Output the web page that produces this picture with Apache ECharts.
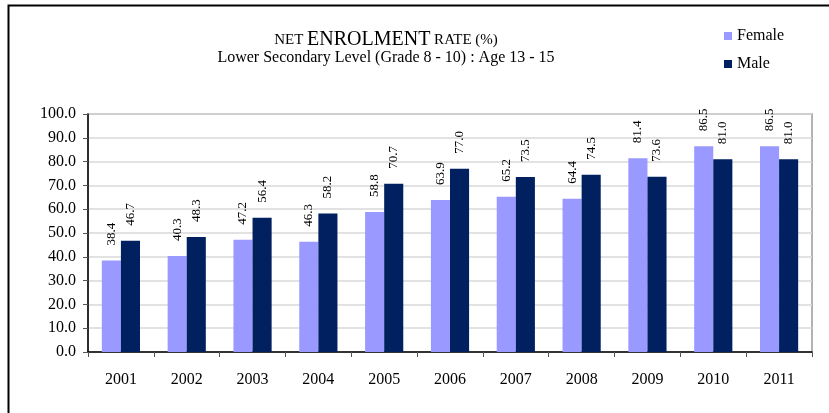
<!DOCTYPE html>
<html><head><meta charset="utf-8">
<script src="https://cdn.jsdelivr.net/npm/echarts@6/dist/echarts.min.js"></script>
<style>html,body{margin:0;padding:0;background:#fff}#c{width:829px;height:413px}</style>
</head><body><div id="c"></div>
<script>
const years = ['2001','2002','2003','2004','2005','2006','2007','2008','2009','2010','2011'];
const female = [38.4,40.3,47.2,46.3,58.8,63.9,65.2,64.4,81.4,86.5,86.5];
const male = [46.7,48.3,56.4,58.2,70.7,77.0,73.5,74.5,73.6,81.0,81.0];
const seriesNames = ['Female','Male'];
const F = '"Liberation Serif","Times New Roman",serif';
const chart = echarts.init(document.getElementById('c'));
const lbl = {show:true, position:'top', rotate:90, align:'left', verticalAlign:'middle', distance:15,
  fontFamily:F, fontSize:13, color:'#000', formatter:p=>p.value.toFixed(1)};
chart.setOption({
  animation:false,
  graphic:[
    {type:'rect', shape:{x:8.5,y:5.5,width:900,height:500}, style:{fill:null, stroke:'#000', lineWidth:2}, silent:true},
    {type:'rect', shape:{x:88,y:114,width:724,height:238}, style:{fill:null, stroke:'#999', lineWidth:1.5}, silent:true, z:-1}
  ],
  title:{
    text:'{s|NET }{b|ENROLMENT}{s| RATE (%)}',
    subtext:'Lower Secondary Level (Grade 8 - 10) : Age 13 - 15',
    left:381, textAlign:'center', top:25, itemGap:0,
    textStyle:{fontWeight:'normal',rich:{s:{fontFamily:F,fontSize:15,color:'#000'},b:{fontFamily:F,fontSize:20,color:'#000'}}},
    subtextStyle:{fontFamily:F,fontSize:16,color:'#000'}
  },
  legend:{
    orient:'vertical', left:724, top:28, itemWidth:8, itemHeight:8, itemGap:12,
    icon:'rect', textStyle:{fontFamily:F,fontSize:16,color:'#000'}, padding:0,
    data:seriesNames
  },
  grid:{left:88, right:17, top:114, bottom:61, containLabel:false},
  xAxis:{
    type:'category', data:years,
    axisLine:{lineStyle:{color:'#000',width:1.5}},
    axisTick:{show:true, alignWithLabel:false, length:5, lineStyle:{color:'#555'}},
    axisLabel:{fontFamily:F,fontSize:16,color:'#000',margin:20}
  },
  yAxis:{
    type:'value', min:0, max:100, interval:10,
    axisLine:{show:true, lineStyle:{color:'#000',width:1.5}},
    axisTick:{show:true, length:5, lineStyle:{color:'#555'}},
    splitLine:{lineStyle:{color:'#d9d9d9',width:1.5}},
    axisLabel:{fontFamily:F,fontSize:16,color:'#000',margin:12,formatter:v=>v.toFixed(1)}
  },
  series:[
    {name:seriesNames[0], type:'bar', data:female, barGap:'0%', barCategoryGap:'42%',
     itemStyle:{color:'#9999FF'}, label:lbl},
    {name:seriesNames[1], type:'bar', data:male, barGap:'0%', barCategoryGap:'42%',
     itemStyle:{color:'#00205F'}, label:lbl}
  ]
});
</script></body></html>
